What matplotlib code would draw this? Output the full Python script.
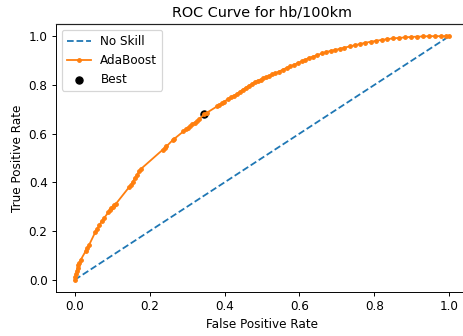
import matplotlib
matplotlib.use("Agg")
from matplotlib import pyplot as plt

# ROC points
fpr = [0.0, 0.002, 0.004, 0.006, 0.008, 0.010, 0.012, 0.016, 0.030, 0.034,
       0.038, 0.055, 0.060, 0.066, 0.072, 0.078, 0.090, 0.094, 0.098, 0.102,
       0.106, 0.110, 0.145, 0.150, 0.155, 0.160, 0.167, 0.172, 0.176, 0.235,
       0.240, 0.245, 0.262, 0.266, 0.290, 0.296, 0.302, 0.308, 0.314, 0.320,
       0.326, 0.332, 0.346, 0.352, 0.380, 0.386, 0.392, 0.398, 0.410, 0.418,
       0.425, 0.432, 0.440, 0.448, 0.456, 0.464, 0.472, 0.480, 0.488, 0.496,
       0.504, 0.512, 0.520, 0.528, 0.536, 0.546, 0.556, 0.566, 0.576, 0.586,
       0.596, 0.606, 0.616, 0.626, 0.636, 0.648, 0.660, 0.672, 0.684, 0.696,
       0.708, 0.720, 0.734, 0.748, 0.762, 0.776, 0.790, 0.805, 0.820, 0.835,
       0.850, 0.866, 0.882, 0.898, 0.914, 0.930, 0.946, 0.962, 0.978, 0.990,
       1.0]
tpr = [0.0, 0.012, 0.025, 0.038, 0.050, 0.060, 0.068, 0.082, 0.120, 0.132,
       0.142, 0.196, 0.210, 0.225, 0.240, 0.252, 0.278, 0.287, 0.294, 0.300,
       0.306, 0.312, 0.380, 0.390, 0.402, 0.416, 0.432, 0.446, 0.454, 0.534,
       0.541, 0.548, 0.574, 0.579, 0.609, 0.617, 0.624, 0.631, 0.638, 0.645,
       0.652, 0.659, 0.680, 0.685, 0.712, 0.718, 0.724, 0.730, 0.743, 0.750,
       0.756, 0.762, 0.771, 0.780, 0.788, 0.796, 0.803, 0.811, 0.817, 0.822,
       0.828, 0.833, 0.838, 0.843, 0.848, 0.855, 0.863, 0.870, 0.876, 0.883,
       0.890, 0.897, 0.904, 0.911, 0.916, 0.923, 0.929, 0.935, 0.940, 0.944,
       0.948, 0.953, 0.958, 0.963, 0.968, 0.973, 0.977, 0.981, 0.985, 0.988,
       0.991, 0.993, 0.995, 0.997, 0.998, 0.999, 1.0, 1.0, 1.0, 1.0,
       1.0]

no_skill = [0, 1]
best_fpr = 0.346
best_tpr = 0.682

dpi = 86.4
fig = plt.figure(figsize=(463 / dpi, 336 / dpi), dpi=dpi)
# keep the frame inside the canvas: right edge sits on the last column
ax = fig.add_axes([56 / 463, 44 / 336, 412 / 463, 268 / 336])
ax.set_xlim(-0.05, 1.05)
ax.set_ylim(-0.05, 1.05)

ax.plot(no_skill, no_skill, linestyle='--', label='No Skill')
ax.plot(fpr, tpr, marker='.', label='AdaBoost')
# scatter sits under the line, as in the original
ax.scatter(best_fpr, best_tpr, marker='o', color='black', label='Best')

ax.set_xlabel('False Positive Rate')
ax.set_ylabel('True Positive Rate')
ax.set_title('ROC Curve for hb/100km')
ax.legend(loc='upper left')

# top edge of the frame drawn in figure pixels, ending at the canvas edge
top = 312 / 336
fig.add_artist(plt.Line2D([56 / 463, 1.0], [top, top], transform=fig.transFigure,
                          color='#222222', linewidth=1.0))

fig.savefig('out.png', dpi=dpi)
